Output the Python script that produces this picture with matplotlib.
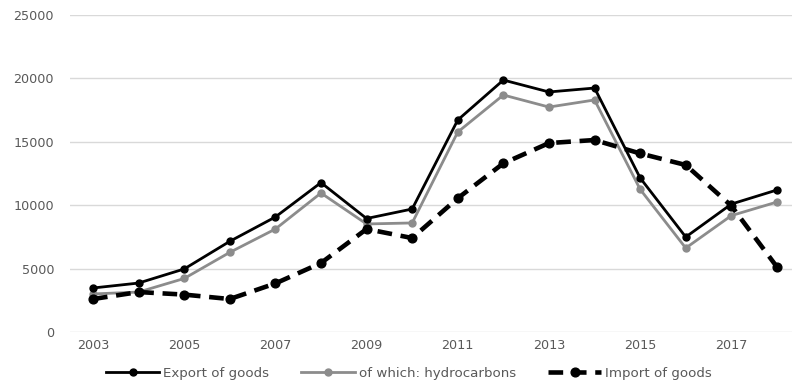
import matplotlib.pyplot as plt
import numpy as np

years = list(range(2003, 2019))
export_goods = [3470, 3860, 4970, 7150, 9070, 11780, 8950, 9700,
                16720, 19870, 18930, 19240, 12150, 7490, 10090, 11200]
hydrocarbons = [3000, 3150, 4220, 6280, 8120, 10960, 8520, 8600,
                15770, 18690, 17740, 18300, 11250, 6620, 9180, 10250]
import_goods = [2600, 3150, 2950, 2600, 3830, 5440, 8120, 7410,
                10550, 13300, 14900, 15140, 14080, 13170, 9950, 5130]

xticks = list(range(2003, 2018, 2))
yticks = [0, 5000, 10000, 15000, 20000, 25000]

W, H = 792, 381
fig = plt.figure(figsize=(W / 100, H / 100), dpi=100)
ax = fig.add_axes([70 / W, (H - 332) / H, 722 / W, 317 / H])

lbl_col = '#595959'

ax.plot(years, export_goods, color='black', lw=2.0, marker='o', ms=5,
        label='Export of goods', zorder=4)
ax.plot(years, hydrocarbons, color='#8c8c8c', lw=2.0, marker='o', ms=5,
        label='of which: hydrocarbons', zorder=3)
ax.plot(years, import_goods, color='black', lw=3.3, marker='o', ms=6.3,
        dashes=(3.2, 1.9), label='Import of goods', zorder=5)

ax.set_xlim(2002.496, 2018.33)
ax.set_ylim(0, 25000)
ax.set_xticks(xticks)
ax.set_yticks(yticks)
ax.grid(axis='y', color='#d9d9d9', lw=1)
ax.set_axisbelow(True)
for s in ax.spines.values():
    s.set_visible(False)
ax.tick_params(axis='both', length=0, labelsize=9.2, labelcolor=lbl_col)
ax.tick_params(axis='y', pad=11.5)
ax.tick_params(axis='x', pad=5)

leg = fig.legend(loc='center', bbox_to_anchor=(409 / W, (H - 373) / H), ncol=3,
                 frameon=False, fontsize=9.6, handlelength=4.0,
                 handletextpad=0.3, columnspacing=2.4,
                 borderpad=0, borderaxespad=0)
for t in leg.get_texts():
    t.set_color(lbl_col)

fig.savefig('out.png', dpi=100)
